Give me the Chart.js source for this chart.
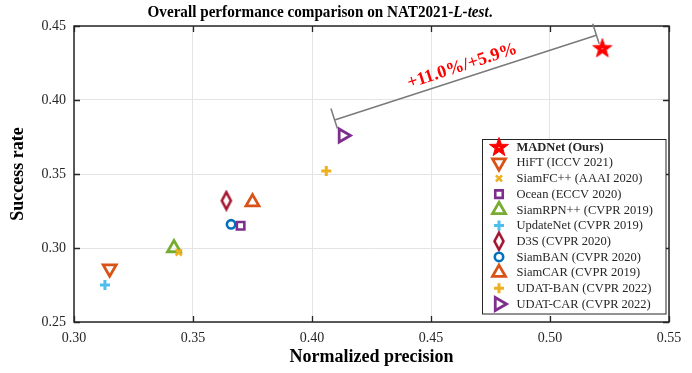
<!DOCTYPE html>
<html><head><meta charset="utf-8">
<script src="https://cdn.jsdelivr.net/npm/chart.js@4/dist/chart.umd.min.js"></script>
<style>html,body{margin:0;padding:0;background:#fff;} #wrap{width:692px;height:373px;position:relative;}</style>
</head><body><div id="wrap"><canvas id="c" width="692" height="373"></canvas></div>
<script>
// ---- data ----
const trackers = ['MADNet (Ours)', 'HiFT (ICCV 2021)', 'SiamFC++ (AAAI 2020)', 'Ocean (ECCV 2020)', 'SiamRPN++ (CVPR 2019)', 'UpdateNet (CVPR 2019)', 'D3S (CVPR 2020)', 'SiamBAN (CVPR 2020)', 'SiamCAR (CVPR 2019)', 'UDAT-BAN (CVPR 2022)', 'UDAT-CAR (CVPR 2022)'];
const normPrecision = [0.522, 0.315, 0.344, 0.370, 0.342, 0.313, 0.364, 0.366, 0.375, 0.406, 0.413];
const successRate   = [0.435, 0.286, 0.297, 0.315, 0.300, 0.275, 0.332, 0.316, 0.331, 0.352, 0.376];
const xTicks = [0.30, 0.35, 0.40, 0.45, 0.50, 0.55];
const yTicks = [0.25, 0.30, 0.35, 0.40, 0.45];
const gainLabel = '+11.0%/+5.9%';

// ---- marker styles ----
function makeStar() {
  const c = document.createElement('canvas'); c.width = 22; c.height = 22;
  const g = c.getContext('2d');
  g.beginPath();
  for (let k = 0; k < 10; k++) {
    const r = k % 2 === 0 ? 10 : 4;
    const a = -Math.PI / 2 + k * Math.PI / 5;
    const px = 11 + r * Math.cos(a), py = 11.5 + r * Math.sin(a);
    if (k === 0) g.moveTo(px, py); else g.lineTo(px, py);
  }
  g.closePath();
  g.fillStyle = '#FF0000'; g.fill();
  g.strokeStyle = '#FF0000'; g.lineWidth = 1; g.stroke();
  g.fillStyle = '#ffffff'; g.fillRect(10.5, 11, 1, 1);
  return c;
}
function makeDiamond() {
  const c = document.createElement('canvas'); c.width = 14; c.height = 22;
  const g = c.getContext('2d');
  g.beginPath();
  g.moveTo(7, 2.5); g.lineTo(11.5, 11); g.lineTo(7, 19.5); g.lineTo(2.5, 11); g.closePath();
  g.strokeStyle = '#A2142F'; g.lineWidth = 2.6; g.lineJoin = 'miter'; g.stroke();
  return c;
}
const NONE = 'rgba(0,0,0,0)';
const markers = [
  {style: makeStar(), color: '#FF0000', fill: '#FF0000', r: 10, bw: 0, rot: 0},
  {style: 'triangle', color: '#D95319', fill: NONE, r: 7.5, bw: 2.8, rot: 180},
  {style: 'crossRot', color: '#EDB120', fill: NONE, r: 4.3, bw: 2.6, rot: 0},
  {style: 'rect', color: '#7E2F8E', fill: NONE, r: 5.3, bw: 2.6, rot: 0},
  {style: 'triangle', color: '#77AC30', fill: NONE, r: 7.5, bw: 2.8, rot: 0},
  {style: 'cross', color: '#4DBEEE', fill: NONE, r: 5, bw: 3, rot: 0},
  {style: makeDiamond(), color: '#A2142F', fill: NONE, r: 9, bw: 0, rot: 0},
  {style: 'circle', color: '#0072BD', fill: NONE, r: 4.2, bw: 2.6, rot: 0},
  {style: 'triangle', color: '#D95319', fill: NONE, r: 7.5, bw: 2.8, rot: 0},
  {style: 'cross', color: '#EDB120', fill: NONE, r: 5, bw: 3, rot: 0},
  {style: 'triangle', color: '#7E2F8E', fill: NONE, r: 7.5, bw: 2.8, rot: 90}
];

const SERIF = '"Liberation Serif", "Times New Roman", Times, serif';
const AXIS = '#262626';

// ---- plugins ----
const boxPlugin = {
  id: 'box',
  beforeDatasetsDraw(chart) {
    const {ctx, chartArea: a, scales: {x, y}} = chart;
    ctx.save();
    ctx.strokeStyle = AXIS; ctx.lineWidth = 1.3;
    const tl = 6;
    ctx.beginPath();
    xTicks.forEach(v => {
      const px = Math.round(x.getPixelForValue(v)) + 0.5;
      ctx.moveTo(px, a.bottom); ctx.lineTo(px, a.bottom - tl);
      ctx.moveTo(px, a.top); ctx.lineTo(px, a.top + tl);
    });
    yTicks.forEach(v => {
      const py = Math.round(y.getPixelForValue(v)) + 0.5;
      ctx.moveTo(a.left, py); ctx.lineTo(a.left + tl, py);
      ctx.moveTo(a.right, py); ctx.lineTo(a.right - tl, py);
    });
    ctx.stroke();
    ctx.lineWidth = 1.5;
    ctx.strokeRect(a.left, a.top, a.right - a.left, a.bottom - a.top);
    ctx.restore();
  }
};

function drawMarker(ctx, m, px, py) {
  ctx.save();
  ctx.strokeStyle = m.color; ctx.fillStyle = m.fill; ctx.lineWidth = m.bw;
  Chart.helpers.drawPoint(ctx, {pointStyle: m.style, rotation: m.rot, radius: m.r, borderWidth: m.bw}, px, py);
  ctx.restore();
}

const overlayPlugin = {
  id: 'overlay',
  afterDraw(chart) {
    const {ctx, scales: {x, y}} = chart;
    // Title (condensed bold serif, mixed italic)
    ctx.save();
    ctx.fillStyle = '#000'; ctx.textBaseline = 'middle';
    const parts = [
      {t: 'Overall performance comparison on NAT2021-', f: 'bold 17px ' + SERIF},
      {t: 'L-test', f: 'italic bold 17px ' + SERIF},
      {t: '.', f: 'bold 17px ' + SERIF}
    ];
    let tw = 0;
    parts.forEach(p => { ctx.font = p.f; p.w = ctx.measureText(p.t).width; tw += p.w; });
    const targetW = 345, sx = targetW / tw;
    ctx.translate(320 - targetW / 2, 12.5);
    ctx.scale(sx, 1);
    let tx = 0;
    parts.forEach(p => { ctx.font = p.f; ctx.fillText(p.t, tx, 0); tx += p.w; });
    ctx.restore();

    // Annotation line between UDAT-CAR and MADNet
    const p1 = {x: x.getPixelForValue(0.4095), y: y.getPixelForValue(0.3865)};
    const p2 = {x: x.getPixelForValue(0.5195), y: y.getPixelForValue(0.4438)};
    const dx = p2.x - p1.x, dy = p2.y - p1.y, len = Math.hypot(dx, dy);
    const nx = -dy / len, ny = dx / len;
    ctx.save();
    ctx.strokeStyle = '#7a7a7a'; ctx.lineWidth = 1.5;
    ctx.beginPath();
    ctx.moveTo(p1.x, p1.y); ctx.lineTo(p2.x, p2.y);
    [p1, p2].forEach(p => {
      ctx.moveTo(p.x - nx * 12, p.y - ny * 12);
      ctx.lineTo(p.x + nx * 9, p.y + ny * 9);
    });
    ctx.stroke();
    const ang = Math.atan2(dy, dx);
    const tpx = x.getPixelForValue(0.4631), tpy = y.getPixelForValue(0.4228);
    ctx.translate(tpx, tpy); ctx.rotate(ang);
    ctx.font = 'bold 18px ' + SERIF; ctx.fillStyle = '#FF0000';
    ctx.textAlign = 'center'; ctx.textBaseline = 'middle';
    ctx.fillText(gainLabel, 0, 0);
    ctx.restore();

    // Legend
    const L = {left: 482.5, top: 139.5, right: 666, bottom: 314};
    ctx.save();
    ctx.fillStyle = '#fff';
    ctx.fillRect(L.left, L.top, L.right - L.left, L.bottom - L.top);
    ctx.strokeStyle = AXIS; ctx.lineWidth = 1;
    ctx.strokeRect(L.left, L.top, L.right - L.left, L.bottom - L.top);
    trackers.forEach((name, i) => {
      const ey = 147 + i * 15.7;
      drawMarker(ctx, markers[i], 499, ey);
      ctx.fillStyle = AXIS; ctx.textBaseline = 'middle'; ctx.textAlign = 'left';
      ctx.font = (i === 0 ? 'bold ' : '') + '12.5px ' + SERIF;
      ctx.fillText(name, 516.5, ey + 0.5);
    });
    ctx.restore();
  }
};

new Chart(document.getElementById('c'), {
  type: 'scatter',
  data: {
    datasets: trackers.map((name, i) => ({
      label: name,
      data: [{x: normPrecision[i], y: successRate[i]}],
      pointStyle: markers[i].style,
      pointRadius: markers[i].r,
      pointBorderWidth: markers[i].bw,
      pointRotation: markers[i].rot,
      borderColor: markers[i].color,
      backgroundColor: markers[i].fill,
      pointHoverRadius: markers[i].r
    }))
  },
  options: {
    responsive: false,
    animation: false,
    events: [],
    layout: {padding: {left: 0, right: 23, top: 26, bottom: 0}},
    plugins: {legend: {display: false}, tooltip: {enabled: false}, title: {display: false}},
    scales: {
      x: {
        type: 'linear', min: 0.30, max: 0.55,
        afterBuildTicks: s => { s.ticks = xTicks.map(v => ({value: v})); },
        afterFit: s => { s.height = 51; },
        ticks: {callback: v => Number(v).toFixed(2), font: {family: SERIF, size: 14}, color: AXIS, padding: 8, maxRotation: 0, autoSkip: false},
        grid: {color: '#e4e4e4', drawTicks: false, lineWidth: 1},
        border: {display: false},
        title: {display: true, text: 'Normalized precision', color: '#000', font: {family: SERIF, size: 18, weight: 'bold'}, padding: {top: 0, bottom: 5}}
      },
      y: {
        type: 'linear', min: 0.25, max: 0.45,
        afterBuildTicks: s => { s.ticks = yTicks.map(v => ({value: v})); },
        afterFit: s => { s.width = 74; },
        ticks: {callback: v => Number(v).toFixed(2), font: {family: SERIF, size: 14}, color: AXIS, padding: 8, autoSkip: false},
        grid: {color: '#e4e4e4', drawTicks: false, lineWidth: 1},
        border: {display: false},
        title: {display: true, text: 'Success rate', color: '#000', font: {family: SERIF, size: 18, weight: 'bold'}, padding: {top: 8, bottom: 0}}
      }
    }
  },
  plugins: [boxPlugin, overlayPlugin]
});
</script>
</body></html>
